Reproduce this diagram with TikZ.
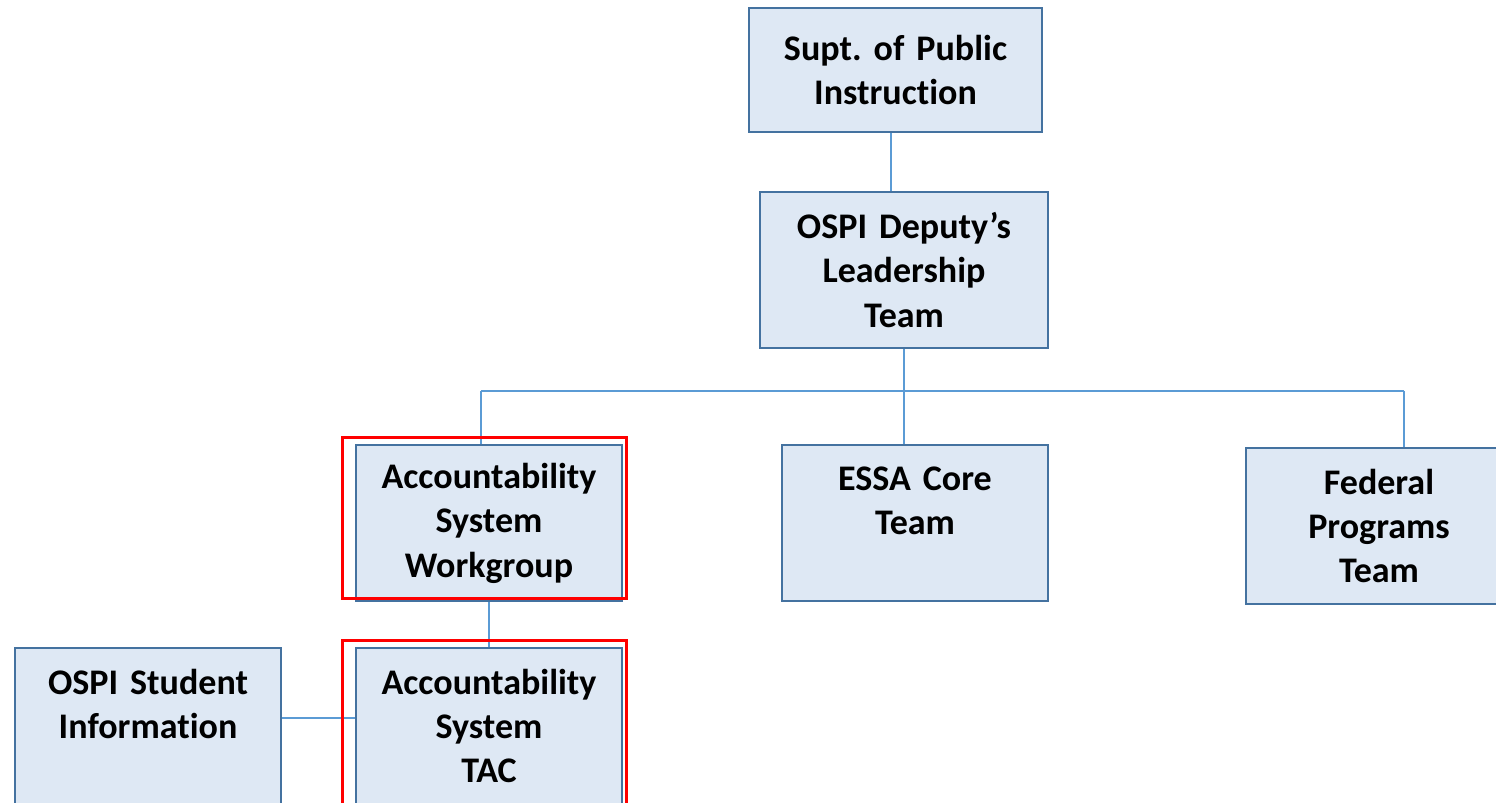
\documentclass[tikz,border=0pt]{standalone}
\usepackage{fontspec}
\setmainfont{Carlito}[Ligatures={NoCommon}]
\usepackage{tikz}
\usetikzlibrary{positioning, calc}
\definecolor{unitfill}{RGB}{222,232,244}
\definecolor{unitline}{RGB}{68,114,160}
\definecolor{linkblue}{RGB}{91,155,213}
\frenchspacing
\tikzset{
    unit/.style={
            draw=unitline,
            fill=unitfill,
            line width=1.3pt,
            inner sep=0pt, % text sits in the middle of the box
            minimum width=5.32cm, % width of the team boxes
            minimum height=3.12cm, % height of the team boxes
            text width=5cm,
            align=center,
            font=\fontsize{20.5}{25.3}\selectfont\bfseries
        },
    link/.style={draw=linkblue, line width=1.4pt}, % org chart lines
    redframe/.style={draw=red, line width=1.7pt} % highlight frame
}
\begin{document}
\begin{tikzpicture}
                \clip (0,0) rectangle (29.92,-16.06);

                % nodes
                \node[unit, minimum width=5.86cm, minimum height=2.48cm] (supt) at (17.91,-1.40) {Supt. of Public\\Instruction};
                \node[unit, below of=supt, node distance=4cm, xshift=0.17cm, minimum width=5.76cm] (deputy) {OSPI Deputy's\\Leadership\\Team};
                \node[unit, below of=deputy, node distance=5.06cm, xshift=0.22cm] (essa) {ESSA Core\\Team\\\mbox{}};
                \node[unit, left of=essa, node distance=8.52cm] (work) {Accountability\\System\\Workgroup};
                \node[unit, right of=essa, node distance=9.28cm, yshift=-0.06cm] (fed) {Federal\\Programs\\Team};
                \node[unit, below of=work, node distance=4.06cm] (tac) {Accountability\\System\\TAC};
                \node[unit, left of=tac, node distance=6.82cm] (student) {OSPI Student\\Information\\\mbox{}};

                \coordinate (busw) at (9.62,-7.82);
                \coordinate (buse) at (28.08,-7.82);

                % edges
                \draw[link] ([xshift=-0.09cm]supt.south) -- ([xshift=-0.09cm]supt.south |- deputy.north);
                \draw[link] (deputy.south) -- (deputy.south |- essa.north);
                \draw[link] (busw) -- (buse);
                \draw[link] (busw) -- (busw |- work.north);
                \draw[link] (buse) -- (buse |- fed.north);
                \draw[link] (work) -- (tac);
                \draw[link] ([yshift=0.16cm]student.east) -- ([yshift=0.16cm]student.east -| tac.west);

                % red highlight frames
                \draw[redframe] ([shift={(-0.24,0.12)}]work.north west) rectangle ([shift={(0.06,0.08)}]work.south east);
                \draw[redframe] ([shift={(-0.24,0.12)}]tac.north west) rectangle ([shift={(0.06,-0.5)}]tac.south east);

        \end{tikzpicture}
\end{document}
